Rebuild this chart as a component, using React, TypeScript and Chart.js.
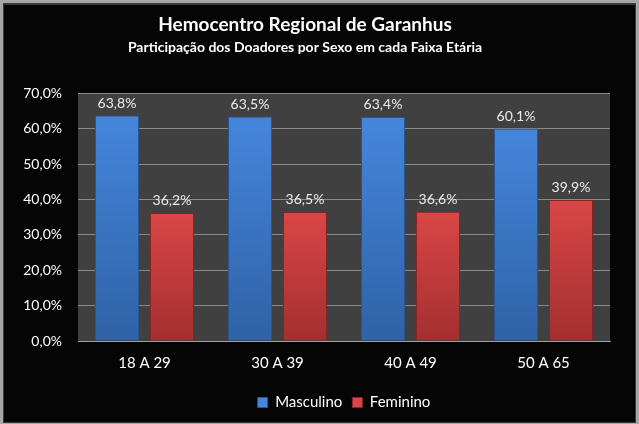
import React, { useEffect, useRef } from "react";
import { Chart, registerables } from "chart.js";

Chart.register(...registerables);

const categories = ["18 A 29", "30 A 39", "40 A 49", "50 A 65"];
const masculino = [63.8, 63.5, 63.4, 60.1];
const feminino = [36.2, 36.5, 36.6, 39.9];
const seriesNames = ["Masculino", "Feminino"];
const titleText = "Hemocentro Regional de Garanhus";
const subtitleText = "Participação dos Doadores por Sexo em cada Faixa Etária";

const FONT = "Lato, 'Open Sans', sans-serif";

const fmt = (v: number) => v.toFixed(1).replace(".", ",") + "%";

const framePlugin = {
  id: "frame",
  beforeDraw(chart: any) {
    const { ctx, width, height, chartArea } = chart;
    ctx.save();
    ctx.fillStyle = "#a6a6a6";
    ctx.fillRect(0, 0, width, height);
    ctx.fillStyle = "#3a3a3a";
    ctx.fillRect(3, 3, width - 6, height - 4);
    ctx.fillStyle = "#050505";
    ctx.fillRect(4, 5, width - 8, height - 7);
    ctx.fillStyle = "#404040";
    ctx.fillRect(chartArea.left, chartArea.top, chartArea.right - chartArea.left, chartArea.bottom - chartArea.top);
    ctx.restore();
  },
};

const legendShiftPlugin = {
  id: "legendShift",
  afterLayout(chart: any) {
    const lg = chart.legend;
    if (!lg) return;
    const areaCenter = (chart.chartArea.left + chart.chartArea.right) / 2;
    const legCenter = (lg.left + lg.right) / 2;
    const d = areaCenter - legCenter;
    lg.left += d;
    lg.right += d;
  },
};

const labelPlugin = {
  id: "valueLabels",
  afterDatasetsDraw(chart: any) {
    const { ctx } = chart;
    ctx.save();
    ctx.font = `14px ${FONT}`;
    ctx.fillStyle = "#ececec";
    ctx.textAlign = "center";
    ctx.textBaseline = "alphabetic";
    chart.data.datasets.forEach((ds: any, i: number) => {
      const meta = chart.getDatasetMeta(i);
      meta.data.forEach((bar: any, j: number) => {
        ctx.fillText(fmt(ds.data[j]), bar.x, bar.y - 8);
      });
    });
    ctx.restore();
  },
};

function barGrad(c: any, top: string, bottom: string) {
  const chart = c.chart;
  const y = chart.scales && chart.scales.y;
  if (!chart.chartArea || !y || c.raw == null) return top;
  const yTop = y.getPixelForValue(c.raw);
  const yBot = y.getPixelForValue(0);
  if (!isFinite(yTop) || !isFinite(yBot) || yTop === yBot) return top;
  const g = chart.ctx.createLinearGradient(0, yTop, 0, yBot);
  g.addColorStop(0, top);
  g.addColorStop(1, bottom);
  return g;
}

export default function App() {
  const ref = useRef<HTMLCanvasElement | null>(null);
  useEffect(() => {
    document.body.style.margin = "0";
    const chart = new Chart(ref.current!, {
      type: "bar",
      data: {
        labels: categories,
        datasets: [
          {
            label: seriesNames[0],
            data: masculino,
            backgroundColor: (c: any) => barGrad(c, "#4586dc", "#2f62a6"),
            borderColor: "#2a5590",
            borderWidth: 1,
            categoryPercentage: 0.827,
            barPercentage: 0.8,
          },
          {
            label: seriesNames[1],
            data: feminino,
            backgroundColor: (c: any) => barGrad(c, "#da4646", "#a32f2f"),
            borderColor: "#852626",
            borderWidth: 1,
            categoryPercentage: 0.827,
            barPercentage: 0.8,
          },
        ],
      },
      options: {
        animation: false,
        responsive: false,
        maintainAspectRatio: false,
        layout: { padding: { left: 0, right: 29, top: 0, bottom: 4 } },
        plugins: {
          title: {
            display: true,
            text: titleText,
            color: "#ffffff",
            font: { family: FONT, size: 19, weight: "bold" },
            padding: { top: 13, bottom: 3 },
          },
          subtitle: {
            display: true,
            text: subtitleText,
            color: "#ffffff",
            font: { family: FONT, size: 14, weight: "bold" },
            padding: { top: 0, bottom: 38 },
          },
          legend: {
            position: "bottom",
            labels: {
              color: "#ffffff",
              font: { family: FONT, size: 15 },
              boxWidth: 10,
              boxHeight: 10,
              padding: 10,
              generateLabels: (chart: any) =>
                seriesNames.map((n, i) => ({
                  text: n,
                  fillStyle: i === 0 ? "#4586dc" : "#da4646",
                  strokeStyle: i === 0 ? "#2a5590" : "#852626",
                  lineWidth: 1,
                  fontColor: "#ffffff",
                  datasetIndex: i,
                  hidden: false,
                })),
            },
          },
          tooltip: { enabled: false },
        },
        scales: {
          x: {
            grid: { display: false, drawTicks: false },
            border: { display: true, color: "#a0a0a0", width: 1 },
            ticks: { color: "#ffffff", font: { family: FONT, size: 15 }, padding: 13 },
          },
          y: {
            min: 0,
            max: 70,
            afterFit: (s: any) => {
              s.width = 78;
            },
            grid: { color: "#8a8a8a", drawTicks: false },
            border: { display: false },
            ticks: {
              stepSize: 10,
              color: "#ffffff",
              font: { family: FONT, size: 14 },
              padding: 16,
              callback: (v: any) => fmt(Number(v)),
            },
          },
        },
      },
      plugins: [framePlugin, legendShiftPlugin, labelPlugin],
    });
    return () => chart.destroy();
  }, []);
  return <canvas ref={ref} width={639} height={424} style={{ display: "block" }} />;
}
